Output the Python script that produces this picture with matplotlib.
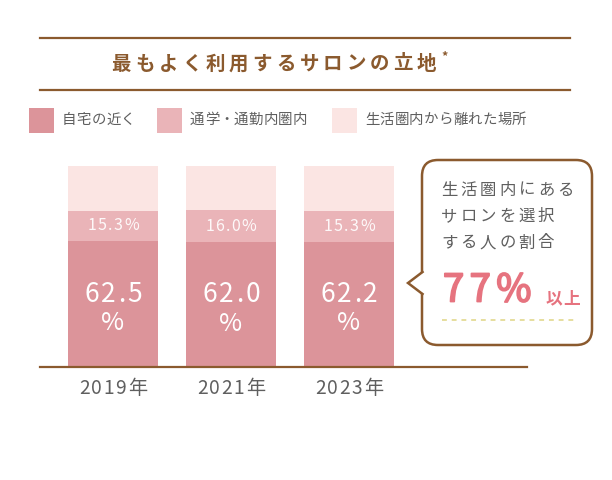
import matplotlib
matplotlib.use("Agg")
import matplotlib.pyplot as plt
import matplotlib.patheffects as pe
from matplotlib.patches import Rectangle, FancyBboxPatch, Polygon
from matplotlib.lines import Line2D
from matplotlib.transforms import Affine2D
from matplotlib.font_manager import FontProperties

plt.rcParams['font.family'] = ['Noto Sans CJK JP', 'DejaVu Sans']

W, H = 612, 480

# data
years = ["2019年", "2021年", "2023年"]
near_home = [62.5, 62.0, 62.2]
commute = [15.3, 16.0, 15.3]
far_away = [22.2, 22.0, 22.5]
series_names = ["自宅の近く", "通学・通勤内圏内", "生活圏内から離れた場所"]

title = "最もよく利用するサロンの立地"
callout_lines = ["生活圏内にある", "サロンを選択", "する人の割合"]
callout_value = "77%"
callout_suffix = "以上"

BROWN = "#8B5A2E"
GRAY = "#5f5f5f"
C_DARK = "#DC949A"
C_MID = "#EAB4B8"
C_LIGHT = "#FBE5E3"
PINK = "#E6737F"

fig = plt.figure(figsize=(W / 100, H / 100), dpi=100)
# pixel coords, origin top-left
px = Affine2D().scale(1 / W, -1 / H).translate(0, 1) + fig.transFigure
renderer = fig.canvas.get_renderer()


def spaced(x, y, s, size, color, spacing=0.0, ha="left", va="center", weight="normal",
           alpha=1.0, stroke=0):
    fp = FontProperties(family=['Noto Sans CJK JP', 'DejaVu Sans'], size=size, weight=weight)
    widths = [renderer.get_text_width_height_descent(ch, fp, ismath=False)[0] for ch in s]
    total = sum(widths) + spacing * (len(s) - 1)
    if ha == "center":
        x = x - total / 2
    elif ha == "right":
        x = x - total
    effects = [pe.withStroke(linewidth=stroke, foreground=color)] if stroke else None
    for ch, w in zip(s, widths):
        fig.text(x, y, ch, transform=px, fontproperties=fp, color=color, va=va, ha="left",
                 alpha=alpha, zorder=5, path_effects=effects)
        x += w + spacing
    return x


def to_px(ax, xv, yv):
    dx, dy = ax.transData.transform((xv, yv))
    return dx, H - dy


# title block
fig.add_artist(Line2D([40, 570], [38, 38], transform=px, color=BROWN, lw=1.6))
fig.add_artist(Line2D([40, 570], [90, 90], transform=px, color=BROWN, lw=1.6))
xe = spaced(274, 64, title, 14, BROWN, spacing=4.0, ha="center", weight="bold")
fig.text(xe + 1, 57, "*", transform=px, fontsize=9, color=BROWN, va="center", weight="bold")

# legend
legend_x = [29, 157, 332]
for lx, name, c in zip(legend_x, series_names, [C_DARK, C_MID, C_LIGHT]):
    fig.add_artist(Rectangle((lx, 108), 25, 25, transform=px, facecolor=c, edgecolor="none"))
    spaced(lx + 33, 120, name, 10.4, GRAY, spacing=0.3)

# bars
ax = fig.add_axes([40 / W, (H - 367) / H, (527 - 40) / W, (367 - 166) / H])
x = list(range(len(years)))
bw = 90 / 118
ax.bar(x, near_home, width=bw, color=C_DARK)
ax.bar(x, commute, width=bw, bottom=near_home, color=C_MID)
ax.bar(x, far_away, width=bw, bottom=[a + b for a, b in zip(near_home, commute)], color=C_LIGHT)
ax.set_xlim(-73 / 118, 414 / 118)
ax.set_ylim(0, 100)
for s in ["top", "left", "right"]:
    ax.spines[s].set_visible(False)
ax.spines["bottom"].set_color(BROWN)
ax.spines["bottom"].set_linewidth(1.6)
ax.set_yticks([])
ax.set_xticks(x)
ax.set_xticklabels([])
ax.tick_params(axis="x", length=0)

for i in x:
    cx, by = to_px(ax, i, 0)
    spaced(cx, by + 21, years[i], 13.8, GRAY, spacing=1.5, ha="center")
    _, my = to_px(ax, i, near_home[i] + commute[i] / 2)
    spaced(cx, my, f"{commute[i]:.1f}%", 11.5, "white", spacing=1.4, ha="center", alpha=0.92)
    _, dy = to_px(ax, i, near_home[i] / 2)
    spaced(cx, dy - 10, f"{near_home[i]:.1f}", 19, "white", spacing=2.2, ha="center")
    spaced(cx, dy + 19, "%", 18, "white", ha="center")

# callout bubble
box = FancyBboxPatch((422, 160), 170, 185, boxstyle="round,pad=0,rounding_size=16",
                     transform=px, facecolor="white", edgecolor=BROWN, lw=1.8)
fig.add_artist(box)
fig.add_artist(Polygon([[424, 272], [408, 283], [424, 294]], closed=True, transform=px,
                       facecolor="white", edgecolor="none", zorder=3))
fig.add_artist(Line2D([422.5, 408, 422.5], [272, 283, 294], transform=px, color=BROWN,
                      lw=1.8, zorder=4, solid_joinstyle="miter"))

for j, line in enumerate(callout_lines):
    spaced(441, 190 + j * 26.5, line, 11.8, GRAY, spacing=3.0)
xe = spaced(443, 291, callout_value, 27.5, PINK, spacing=5.5, stroke=1.3)
spaced(xe + 9, 299, callout_suffix, 12, PINK, spacing=1, weight="bold")
fig.add_artist(Line2D([442, 576], [320, 320], transform=px, color="#E6DE9E", lw=1.4,
                      linestyle=(0, (2.5, 2.5))))

fig.savefig("out.png", dpi=100, facecolor="white")
